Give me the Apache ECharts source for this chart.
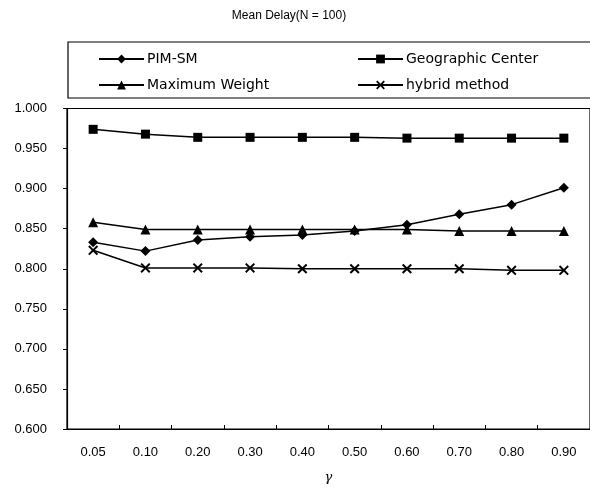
<!DOCTYPE html>
<html>
<head>
<meta charset="utf-8">
<script src="https://cdn.jsdelivr.net/npm/echarts@6/dist/echarts.min.js"></script>
<style>html,body{margin:0;padding:0;background:#fff;}#c{width:590px;height:489px;}</style>
</head>
<body>
<div id="c"></div>
<script>
const categories = ['0.05','0.10','0.20','0.30','0.40','0.50','0.60','0.70','0.80','0.90'];
const pimSM = [0.833, 0.822, 0.836, 0.840, 0.842, 0.847, 0.855, 0.868, 0.880, 0.901];
const geoCenter = [0.974, 0.968, 0.964, 0.964, 0.964, 0.964, 0.963, 0.963, 0.963, 0.963];
const maxWeight = [0.858, 0.849, 0.849, 0.849, 0.849, 0.849, 0.849, 0.847, 0.847, 0.847];
const hybrid = [0.823, 0.801, 0.801, 0.801, 0.800, 0.800, 0.800, 0.800, 0.798, 0.798];
const yTicks = {min: 0.6, max: 1.0, interval: 0.05};

const xPath = 'path://M0,1.4 L1.4,0 L5,3.6 L8.6,0 L10,1.4 L6.4,5 L10,8.6 L8.6,10 L5,6.4 L1.4,10 L0,8.6 L3.6,5 Z';
const font = 'Liberation Sans';

function mk(name, data, symbol, size) {
  return {
    name: name, type: 'line', data: data, symbol: symbol, symbolSize: size,
    lineStyle: {color: '#000', width: 1.5},
    itemStyle: {color: '#000'},
    animation: false
  };
}

const chart = echarts.init(document.getElementById('c'), null, {renderer: 'canvas'});
chart.setOption({
  backgroundColor: '#fff',
  animation: false,
  title: {
    text: 'Mean Delay(N = 100)', left: 284, top: 5, textAlign: 'center',
    textStyle: {fontFamily: font, fontSize: 12, fontWeight: 'normal', color: '#000'}
  },
  graphic: [{
    type: 'rect', shape: {x: 68, y: 42, width: 530, height: 56},
    style: {fill: 'none', stroke: '#000', lineWidth: 1.2}, silent: true
  }],
  legend: [{
    data: ['PIM-SM', 'Maximum Weight'], orient: 'vertical', left: 93, top: 47,
    itemWidth: 45, itemHeight: 11, itemGap: 12,
    textStyle: {fontFamily: 'DejaVu Sans', fontSize: 14, color: '#000', padding: [0,0,0,-2]}
  }, {
    data: ['Geographic Center', 'hybrid method'], orient: 'vertical', left: 352, top: 47,
    itemWidth: 45, itemHeight: 11, itemGap: 12,
    textStyle: {fontFamily: 'DejaVu Sans', fontSize: 14, color: '#000', padding: [0,0,0,-2]}
  }],
  grid: {left: 67, top: 108.5, right: -3, bottom: 56, show: true, borderColor: '#000', borderWidth: 1.2},
  xAxis: {
    type: 'category', data: categories, boundaryGap: true,
    name: 'γ', nameLocation: 'middle', nameGap: 42,
    nameTextStyle: {fontFamily: 'DejaVu Serif', fontStyle: 'italic', fontSize: 13, color: '#000'},
    axisLine: {lineStyle: {color: '#000', width: 1.2}},
    axisTick: {show: true, inside: true, length: 4, interval: 0, lineStyle: {color: '#000'}},
    axisLabel: {fontFamily: font, fontSize: 13, color: '#000', margin: 17, interval: 0}
  },
  yAxis: {
    type: 'value', min: yTicks.min, max: yTicks.max, interval: yTicks.interval,
    axisLine: {show: true, lineStyle: {color: '#000', width: 1.2}},
    axisTick: {show: true, inside: false, length: 4, lineStyle: {color: '#000'}},
    splitLine: {show: false},
    axisLabel: {fontFamily: font, fontSize: 13, color: '#000', margin: 20, formatter: v => v.toFixed(3)}
  },
  series: [
    mk('PIM-SM', pimSM, 'diamond', 10),
    mk('Geographic Center', geoCenter, 'rect', 9),
    mk('Maximum Weight', maxWeight, 'triangle', 10),
    mk('hybrid method', hybrid, xPath, 10)
  ]
});
</script>
</body>
</html>
